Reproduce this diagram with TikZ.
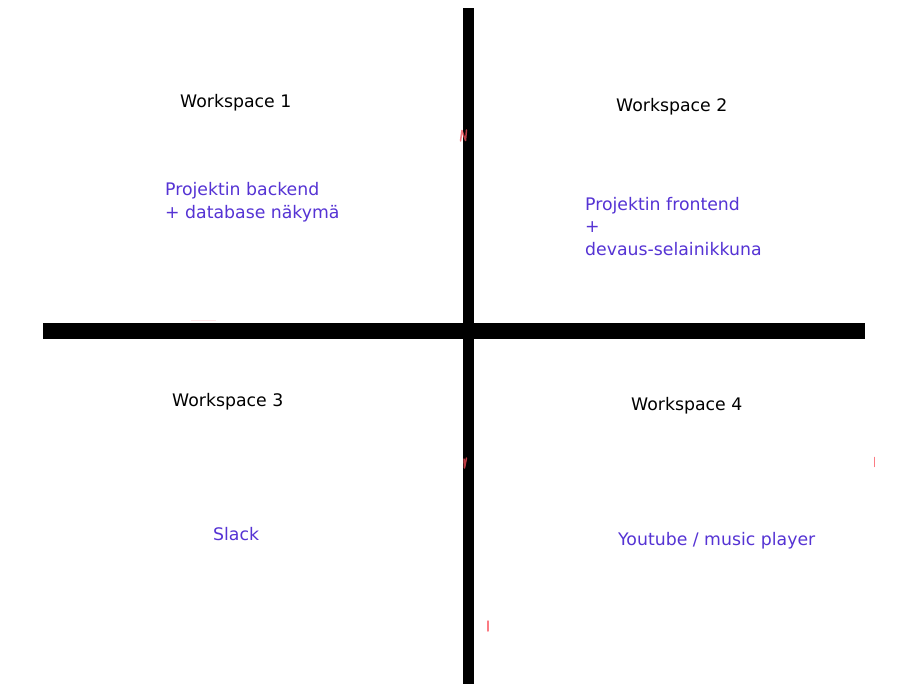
\documentclass[tikz,border=0pt]{standalone}
\usepackage{fontspec}
\setmainfont{DejaVu Sans}
\definecolor{notecolor}{RGB}{85,51,212}
\definecolor{penred}{RGB}{250,80,90}
\begin{document}
\begin{tikzpicture}[x=1pt,y=-1pt,
  divider/.style={fill=black},
  title/.style={anchor=base west,inner sep=0pt,font=\fontsize{17.3}{20}\selectfont,text=black},
  note/.style={anchor=base west,inner sep=0pt,font=\fontsize{17.3}{20}\selectfont,text=notecolor},
  scribble/.style={draw=penred,line width=1.5pt,line cap=round,line join=round,opacity=0.75}]
\useasboundingbox[fill=white] (0,0) rectangle (900,700);

% quadrant dividers
\fill[divider] (43,323) rectangle (865,339);
\fill[divider] (463,8) rectangle (474,684);

% workspace titles
\node[title] (w1) at (180,108) {Workspace 1};
\node[title] (w2) at (616,112) {Workspace 2};
\node[title] (w3) at (172,407) {Workspace 3};
\node[title] (w4) at (631,411) {Workspace 4};

% contents of each workspace
\node[note] (b1) at (165,196) {Projektin backend};
\node[note] (b2) at (165,219) {+ database näkymä};
\node[note] (f1) at (585,211) {Projektin frontend};
\node[note] (f2) at (585,233) {+};
\node[note] (f3) at (585,256) {devaus-selainikkuna};
\node[note] (s1) at (213,540) {Slack};
\node[note] (y1) at (618,545) {Youtube / music player};

% small pen marks
\draw[scribble] (460.5,141) -- (462,130.5) -- (465.5,140.5) -- (466.5,130);
\draw[scribble] (464,459) -- (464.5,468) -- (466.5,458);
\draw[scribble] (874.5,457.5) -- (874.5,466.5);
\draw[scribble] (488,621) -- (488,631);
\draw[draw=penred,line width=0.8pt,opacity=0.15] (191,320) -- (216,320);
\end{tikzpicture}
\end{document}
